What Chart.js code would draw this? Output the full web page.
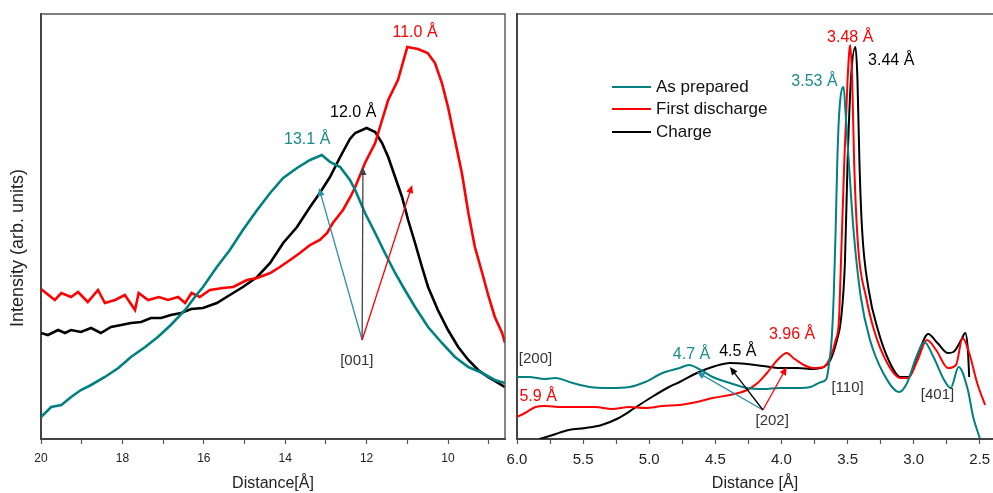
<!DOCTYPE html>
<html>
<head>
<title>Distance profiles</title>
<script src="https://cdn.jsdelivr.net/npm/chart.js"></script>
<style>
    body { margin: 0; background: #fff; overflow: hidden; }
    #wrap { position: relative; width: 993px; height: 493px; }
    #leftBox { position: absolute; left: 0; top: 0; width: 510px; height: 493px; }
    #rightBox { position: absolute; left: 500px; top: 0; width: 493px; height: 493px; }
</style>
</head>
<body>
<div id="wrap">
    <div id="leftBox"><canvas id="lowChart" width="510" height="493"></canvas></div>
    <div id="rightBox"><canvas id="highChart" width="493" height="493"></canvas></div>
</div>
<script>
const seriesNames = ['As prepared', 'First discharge', 'Charge'];
const seriesColors = ['#008080', '#ff0000', '#000000'];

// long distances (20 - 8.6 Å)
const lowPreparedD = [20, 19.75, 19.5, 19.26, 19.02, 18.77, 18.43, 18.1, 17.79, 17.44, 17.13, 16.81, 16.46, 16.22, 16.02, 15.68, 15.36, 15.04, 14.69, 14.37, 14.05, 13.71, 13.39, 13.1, 12.9, 12.65, 12.41, 12.28, 12.04, 11.79, 11.55, 11.3, 11.06, 10.81, 10.49, 10.15, 9.83, 9.5, 9.16, 8.85, 8.6];
const lowPreparedI = [22, 32, 34, 42, 49, 54, 62, 71, 82, 92, 102, 114, 129, 142, 152, 172, 189, 209, 229, 246, 261, 271, 279, 284, 277, 272, 259, 249, 226, 206, 186, 166, 149, 132, 112, 96, 82, 72, 66, 59, 56];

const lowDischargeD = [20, 19.66, 19.5, 19.26, 19.09, 18.85, 18.6, 18.43, 18.18, 17.94, 17.69, 17.6, 17.37, 17.1, 16.88, 16.63, 16.46, 16.3, 16.1, 15.85, 15.53, 15.28, 14.94, 14.69, 14.37, 14.13, 13.88, 13.64, 13.39, 13.15, 12.97, 12.83, 12.58, 12.4, 12.28, 12.04, 11.79, 11.62, 11.47, 11.23, 11.0, 10.74, 10.5, 10.32, 10.15, 10.0, 9.83, 9.66, 9.5, 9.34, 9.16, 9.0, 8.85, 8.67, 8.6];
const lowDischargeI = [150, 139, 146, 142, 147, 137, 149, 136, 139, 144, 129, 146, 139, 142, 139, 142, 136, 146, 142, 149, 151, 152, 159, 161, 166, 172, 179, 186, 194, 199, 206, 216, 229, 242, 252, 276, 296, 319, 339, 359, 392, 390, 386, 376, 356, 332, 299, 266, 226, 192, 166, 142, 122, 106, 96];

const lowChargeD = [20, 19.83, 19.58, 19.41, 19.26, 19.02, 18.77, 18.53, 18.28, 18.03, 17.79, 17.54, 17.3, 17.05, 16.81, 16.56, 16.31, 16.02, 15.68, 15.36, 15.04, 14.69, 14.37, 14.05, 13.71, 13.39, 13.15, 12.9, 12.65, 12.41, 12.28, 12.0, 11.79, 11.62, 11.47, 11.3, 11.13, 10.98, 10.81, 10.64, 10.49, 10.25, 10.0, 9.75, 9.5, 9.26, 9.02, 8.77, 8.6];
const lowChargeI = [106, 104, 109, 106, 109, 107, 111, 106, 112, 114, 116, 117, 121, 121, 124, 126, 130, 131, 136, 144, 152, 162, 176, 196, 212, 232, 246, 262, 282, 300, 306, 311, 307, 296, 282, 262, 242, 219, 196, 172, 152, 129, 109, 92, 79, 69, 62, 56, 52];

// short distances (6.0 - 2.4 Å)
const highPreparedD = [6.0, 5.91, 5.79, 5.71, 5.58, 5.45, 5.3, 5.15, 5.03, 4.9, 4.77, 4.7, 4.61, 4.52, 4.39, 4.26, 4.14, 4.01, 3.88, 3.78, 3.7, 3.66, 3.64, 3.62, 3.605, 3.59, 3.578, 3.563, 3.53, 3.515, 3.49, 3.455, 3.4, 3.33, 3.23, 3.11, 3.05, 2.98, 2.92, 2.85, 2.77, 2.72, 2.66, 2.59, 2.55, 2.5];
const highPreparedI = [62, 62, 60, 61, 56, 52, 51, 52, 57, 66, 71, 74, 69, 62, 56, 51, 50, 51, 51, 52, 57, 60, 75, 100, 142, 209, 276, 326, 352, 326, 276, 209, 142, 99, 66, 47, 56, 82, 97, 82, 59, 51, 72, 49, 22, 1];

const highDischargeD = [6.0, 5.94, 5.86, 5.79, 5.66, 5.53, 5.41, 5.28, 5.15, 5.03, 4.9, 4.77, 4.64, 4.52, 4.39, 4.26, 4.18, 4.11, 4.03, 3.96, 3.91, 3.83, 3.76, 3.68, 3.63, 3.59, 3.565, 3.55, 3.525, 3.5, 3.48, 3.465, 3.45, 3.42, 3.36, 3.3, 3.2, 3.1, 3.04, 2.97, 2.9, 2.83, 2.74, 2.68, 2.63, 2.58, 2.52, 2.46];
const highDischargeI = [22, 26, 32, 33, 32, 32, 32, 30, 32, 31, 33, 34, 37, 41, 44, 49, 56, 66, 79, 86, 81, 74, 71, 72, 82, 99, 119, 176, 276, 359, 394, 359, 276, 192, 142, 109, 76, 61, 61, 79, 99, 89, 71, 74, 101, 86, 56, 34];

const highChargeD = [5.83, 5.73, 5.61, 5.48, 5.36, 5.23, 5.11, 4.98, 4.85, 4.77, 4.64, 4.5, 4.39, 4.26, 4.14, 4.01, 3.88, 3.76, 3.68, 3.63, 3.58, 3.55, 3.52, 3.5, 3.475, 3.44, 3.425, 3.41, 3.39, 3.34, 3.27, 3.19, 3.1, 3.04, 2.97, 2.89, 2.82, 2.74, 2.7, 2.64, 2.61, 2.59, 2.58];
const highChargeI = [0, 4, 9, 11, 14, 21, 31, 42, 52, 57, 66, 73, 76, 75, 73, 71, 71, 70, 72, 79, 99, 119, 176, 276, 359, 392, 359, 276, 209, 149, 109, 79, 62, 62, 84, 105, 96, 86, 87, 99, 106, 89, 62];

const FONT = "'Liberation Sans', Arial, sans-serif";
const tealText = '#1a8c8c';
const arrowTeal = '#2a8fa8';

// peak labels and Miller indices, placed in data units
const lowNotes = [
    { text: '13.1 Å', d: 13.46, v: 299, color: tealText },
    { text: '12.0 Å', d: 12.33, v: 326, color: '#000' },
    { text: '11.0 Å', d: 10.81, v: 406, color: '#ff0000' },
    { text: '[001]', d: 12.24, v: 78, color: '#333', size: 15 }
];
const lowArrows = [
    { from: [12.11, 99], to: [13.17, 251], color: arrowTeal },
    { from: [12.11, 99], to: [12.09, 272], color: '#444' },
    { from: [12.11, 99], to: [10.88, 254], color: '#ff0000' }
];
const highNotes = [
    { text: '3.48 Å', d: 3.48, v: 401, color: '#ff0000' },
    { text: '3.44 Å', d: 3.17, v: 378, color: '#000' },
    { text: '3.53 Å', d: 3.75, v: 357, color: tealText },
    { text: '[200]', d: 5.86, v: 80, color: '#333', size: 15 },
    { text: '5.9 Å', d: 5.84, v: 42, color: '#ff0000' },
    { text: '4.7 Å', d: 4.68, v: 84, color: tealText },
    { text: '4.5 Å', d: 4.33, v: 87, color: '#000' },
    { text: '3.96 Å', d: 3.92, v: 104, color: '#ff0000' },
    { text: '[202]', d: 4.07, v: 18, color: '#333', size: 15 },
    { text: '[110]', d: 3.5, v: 51, color: '#333', size: 15 },
    { text: '[401]', d: 2.82, v: 44, color: '#333', size: 15 }
];
const highArrows = [
    { from: [4.14, 29], to: [4.64, 67], color: arrowTeal },
    { from: [4.14, 29], to: [4.39, 72], color: '#000' },
    { from: [4.14, 29], to: [3.96, 72], color: '#ff0000' }
];

function pairs(xs, ys) {
    return xs.map((x, i) => ({ x: x, y: ys[i] }));
}

function drawArrow(ctx, x0, y0, x1, y1, color) {
    const a = Math.atan2(y1 - y0, x1 - x0);
    const len = 8, w = 3.5;
    ctx.save();
    ctx.strokeStyle = color;
    ctx.fillStyle = color;
    ctx.lineWidth = 1.3;
    ctx.beginPath();
    ctx.moveTo(x0, y0);
    ctx.lineTo(x1 - len * 0.6 * Math.cos(a), y1 - len * 0.6 * Math.sin(a));
    ctx.stroke();
    ctx.beginPath();
    ctx.moveTo(x1, y1);
    ctx.lineTo(x1 - len * Math.cos(a) + w * Math.sin(a), y1 - len * Math.sin(a) - w * Math.cos(a));
    ctx.lineTo(x1 - len * Math.cos(a) - w * Math.sin(a), y1 - len * Math.sin(a) + w * Math.cos(a));
    ctx.closePath();
    ctx.fill();
    ctx.restore();
}

// frame, labels, arrows and extra bits drawn on top of the lines
function notesPlugin(notes, arrows, boxSides, extra) {
    return {
        id: 'notes',
        afterDraw(chart) {
            const ctx = chart.ctx;
            const xs = chart.scales.x, ys = chart.scales.y;
            const area = chart.chartArea;

            ctx.save();
            ctx.strokeStyle = '#555';
            ctx.lineWidth = 1.4;
            ctx.beginPath();
            ctx.moveTo(area.left, area.top);
            ctx.lineTo(area.right, area.top);
            if (boxSides.right) ctx.lineTo(area.right, area.bottom);
            ctx.stroke();
            ctx.restore();

            arrows.forEach(a => {
                drawArrow(ctx,
                    xs.getPixelForValue(a.from[0]), ys.getPixelForValue(a.from[1]),
                    xs.getPixelForValue(a.to[0]), ys.getPixelForValue(a.to[1]), a.color);
            });

            ctx.save();
            ctx.textAlign = 'center';
            ctx.textBaseline = 'middle';
            notes.forEach(n => {
                ctx.font = (n.size || 16) + 'px ' + FONT;
                ctx.fillStyle = n.color;
                ctx.fillText(n.text, xs.getPixelForValue(n.d), ys.getPixelForValue(n.v));
            });
            ctx.restore();

            if (extra) extra(chart, ctx);
        }
    };
}

function makeDatasets(dList, iList, width, tension) {
    return seriesNames.map((name, k) => ({
        label: name,
        data: pairs(dList[k], iList[k]),
        borderColor: seriesColors[k],
        borderWidth: width,
        pointRadius: 0,
        tension: tension,
        cubicInterpolationMode: tension > 0 ? 'monotone' : 'default',
        fill: false
    }));
}

function xAxis(min, max, step, showLabel, titleText, fontSize) {
    return {
        type: 'linear',
        reverse: true,
        min: min,
        max: max,
        afterFit: s => {
            s.height = 54;
            // end labels fit inside the canvas, no extra side padding
            s.paddingLeft = 0;
            s.paddingRight = 0;
        },
        ticks: {
            stepSize: step,
            includeBounds: false,
            autoSkip: false,
            maxRotation: 0,
            padding: 7,
            color: '#222',
            font: { family: FONT, size: fontSize },
            callback: v => showLabel(v)
        },
        grid: { drawOnChartArea: false, drawTicks: true, tickLength: 5, color: '#555', tickWidth: 1.2 },
        border: { display: true, color: '#444', width: 2 },
        title: {
            display: true,
            text: titleText,
            color: '#222',
            font: { family: FONT, size: 16 },
            padding: { top: 0, bottom: 0 }
        }
    };
}

function yAxis(width) {
    return {
        min: 0,
        max: 425,
        afterFit: s => { s.width = width; },
        ticks: { display: false },
        grid: { drawOnChartArea: false, drawTicks: false },
        border: { display: true, color: '#444', width: 2 }
    };
}

const common = {
    responsive: false,
    animation: false,
    events: [],
    plugins: { legend: { display: false }, tooltip: { enabled: false } }
};

new Chart(document.getElementById('lowChart'), {
    type: 'line',
    data: {
        datasets: makeDatasets(
            [lowPreparedD, lowDischargeD, lowChargeD],
            [lowPreparedI, lowDischargeI, lowChargeI], 2.6, 0)
    },
    options: Object.assign({}, common, {
        layout: { padding: { top: 14, right: 5, left: 0, bottom: 0 } },
        scales: {
            x: xAxis(8.6, 20, 1, v => (Math.round(v) % 2 === 0 ? String(Math.round(v)) : ''), 'Distance[Å]', 12),
            y: yAxis(41)
        }
    }),
    plugins: [notesPlugin(lowNotes, lowArrows, { right: true }, (chart, ctx) => {
        ctx.save();
        ctx.translate(18, 248);
        ctx.rotate(-Math.PI / 2);
        ctx.font = '18px ' + FONT;
        ctx.fillStyle = '#222';
        ctx.textAlign = 'center';
        ctx.textBaseline = 'middle';
        ctx.fillText('Intensity (arb. units)', 0, 0);
        ctx.restore();
    })]
});

new Chart(document.getElementById('highChart'), {
    type: 'line',
    data: {
        datasets: makeDatasets(
            [highPreparedD, highDischargeD, highChargeD],
            [highPreparedI, highDischargeI, highChargeI], 2.0, 0.4)
    },
    options: Object.assign({}, common, {
        layout: { padding: { top: 14, right: 0, left: 0, bottom: 0 } },
        scales: {
            x: xAxis(2.4, 6.0, 0.25, v => (Math.abs(v * 2 - Math.round(v * 2)) < 1e-6 ? v.toFixed(1) : ''), 'Distance [Å]', 15),
            y: yAxis(17)
        }
    }),
    plugins: [notesPlugin(highNotes, highArrows, { right: false }, (chart, ctx) => {
        // legend inside the plot
        const rows = [87, 109, 132];
        ctx.save();
        ctx.font = '17px ' + FONT;
        ctx.textBaseline = 'middle';
        chart.data.datasets.forEach((ds, k) => {
            ctx.strokeStyle = ds.borderColor;
            ctx.lineWidth = 2.2;
            ctx.beginPath();
            ctx.moveTo(112, rows[k]);
            ctx.lineTo(151, rows[k]);
            ctx.stroke();
            ctx.fillStyle = '#111';
            ctx.fillText(ds.label, 156, rows[k]);
        });
        ctx.restore();
    })]
});
</script>
</body>
</html>
